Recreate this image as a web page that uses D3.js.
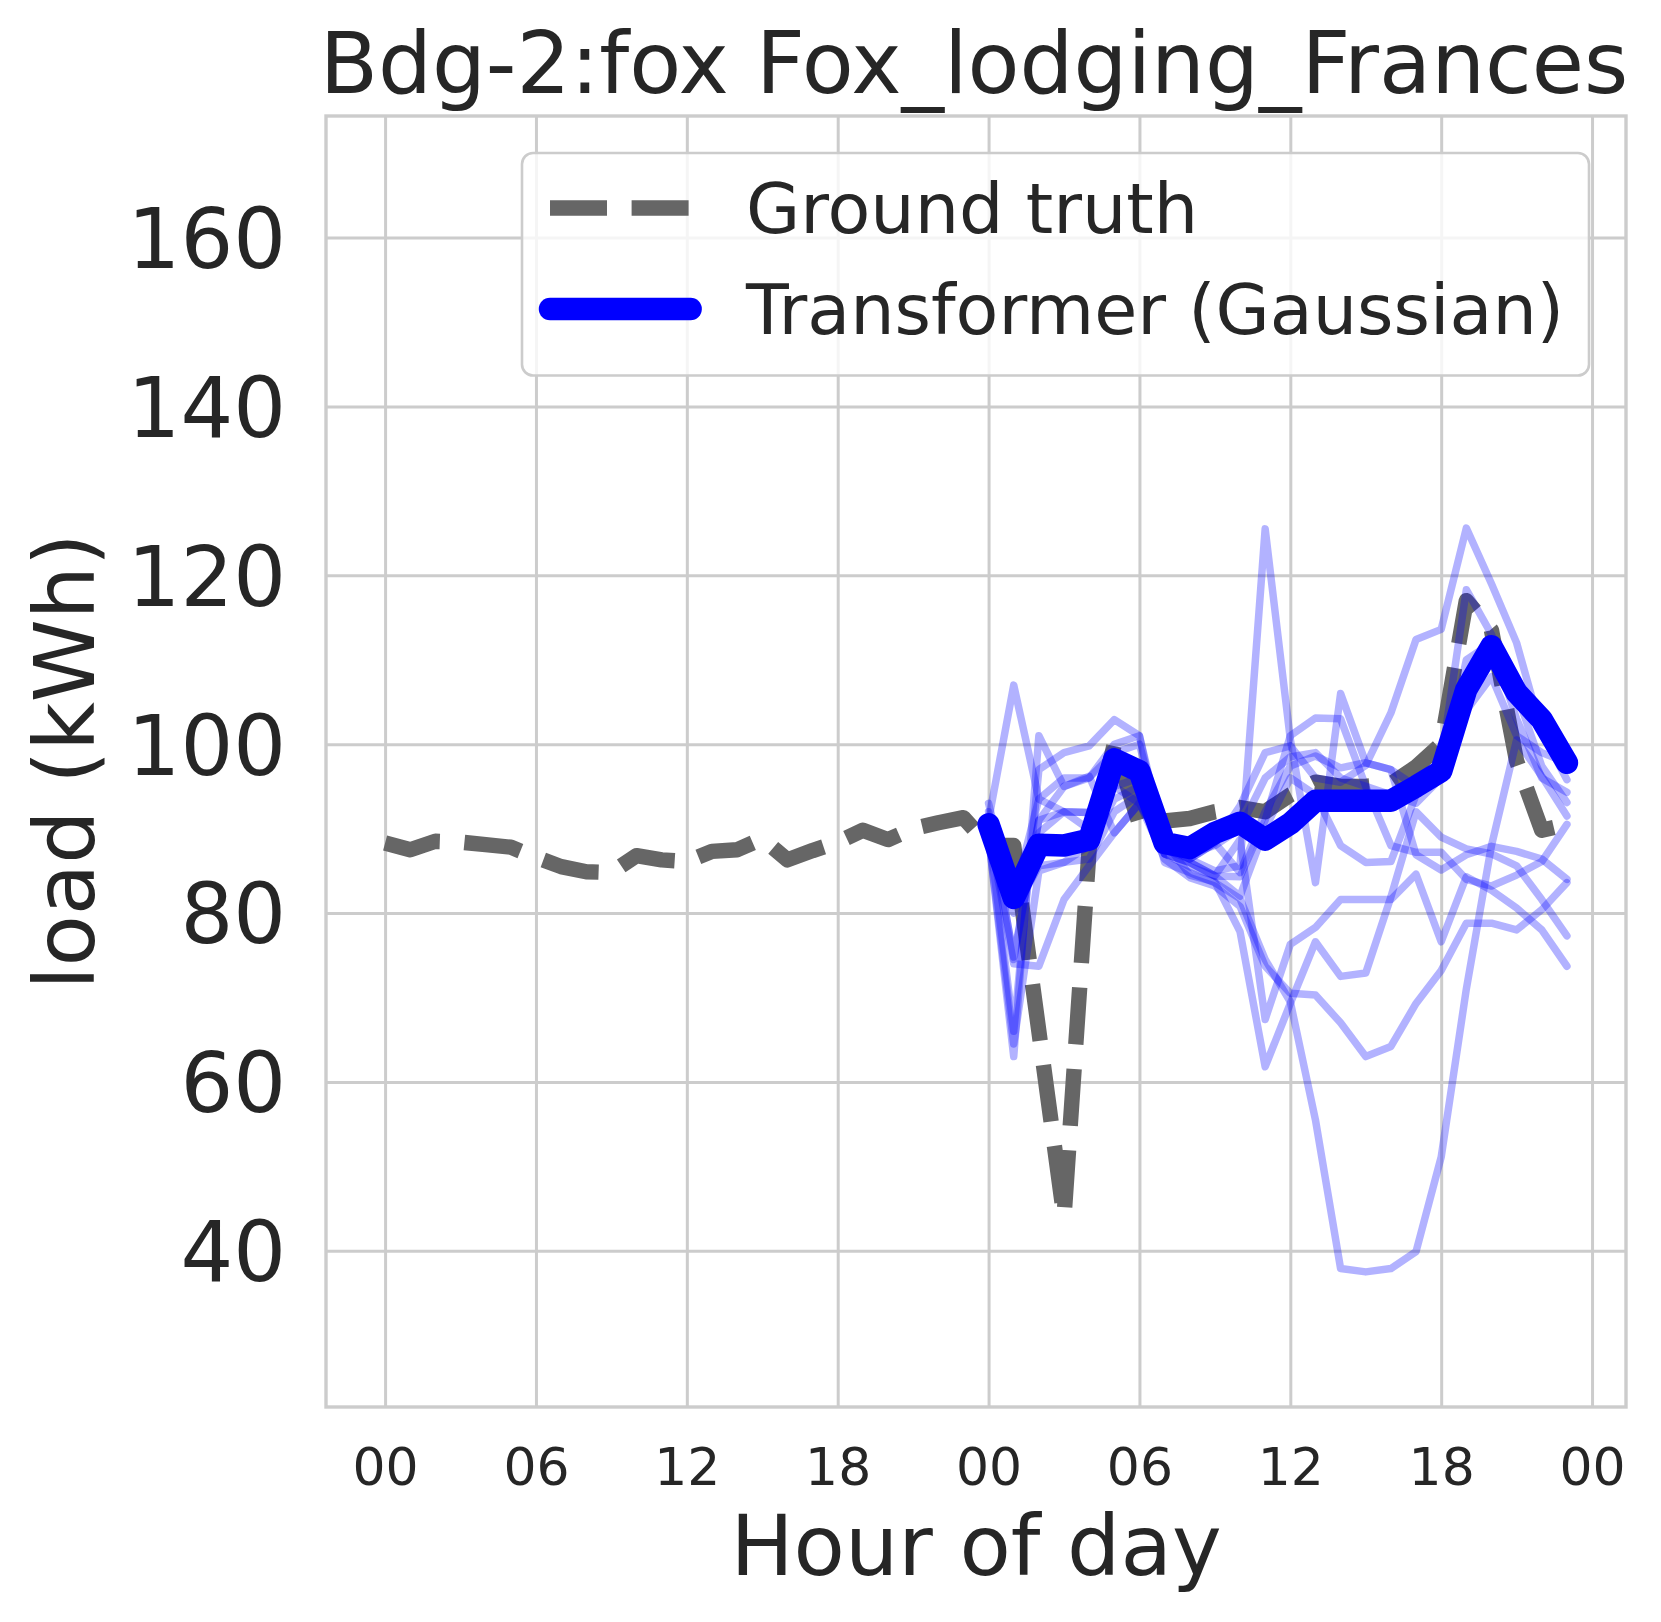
<!DOCTYPE html>
<html>
<head>
<meta charset="utf-8">
<script src="https://cdn.jsdelivr.net/npm/d3@7"></script>
<style>
  html, body { margin: 0; padding: 0; background: #ffffff; }
  svg { display: block; font-family: "DejaVu Sans", sans-serif; }
</style>
</head>
<body>
<svg id="chart" width="1661" height="1622"></svg>
<script>
// ---------------- data ----------------
const titleText = "Bdg-2:fox Fox_lodging_Frances";
const xLabel = "Hour of day";
const yLabel = "load (kWh)";

const historyHours = [0,1,2,3,4,5,6,7,8,9,10,11,12,13,14,15,16,17,18,19,20,21,22,23,
                      24,25,26,27,28,29,30,31,32,33,34,35,36,37,38,39,40,41,42,43,44,45,46,47];
const groundTruth = [88.3, 87.5, 88.5, 88.4, 88.1, 87.8, 86.6, 85.5, 84.9, 84.8, 86.8, 86.3,
                     86.1, 87.3, 87.5, 88.8, 86.3, 87.4, 88.4, 89.8, 88.7, 90.0, 90.7, 91.3,
                     88.0, 88.0, 66.0, 44.0, 87.6, 100.0, 90.5, 90.9, 91.2, 92.0, 92.5, 92.0,
                     94.0, 95.5, 95.0, 95.0, 95.3, 97.3, 100.0, 117.0, 113.5, 98.0, 89.8, 90.5];

const forecastHours = [24,25,26,27,28,29,30,31,32,33,34,35,36,37,38,39,40,41,42,43,44,45,46,47];
const transformerMean = [90.5, 81.8, 88.1, 88.0, 88.7, 98.2, 96.8, 88.3, 87.7, 89.5, 90.7, 88.7,
                         90.6, 93.3, 93.3, 93.3, 93.3, 95.0, 96.8, 106.5, 111.6, 106.1, 102.9, 97.8];

const sample1  = [91, 107, 93.5, 92, 91.9, 95, 93, 88, 86.4, 88.3, 92.7, 99, 99.8, 96, 95.5, 97.5, 103.7, 112.4, 113.6, 125.6, 119, 112, 101.4, 95.8];
const sample2  = [89, 63, 101, 95, 96.2, 89.5, 93, 87.5, 86.4, 85, 85.6, 125.5, 100.6, 83.6, 106, 97.8, 97, 86.9, 85.1, 86.9, 87.9, 87.3, 86.4, 84];
const sample3  = [90, 66, 97, 99, 99.8, 102.9, 101, 88.5, 84.5, 83.7, 77.8, 61.8, 69.3, 76.6, 72.5, 72.9, 81.9, 92, 89, 87.6, 87, 85.6, 81.6, 77.3];
const sample4  = [92, 74.5, 91, 95, 96, 100, 101, 87, 85.5, 84.4, 88.7, 67.4, 76.3, 78.3, 81.6, 81.6, 81.6, 84.6, 76.6, 84.3, 82.7, 80.6, 78, 73.7];
const sample5  = [90, 74, 73.7, 81.6, 85.6, 89.5, 93, 86.4, 84.2, 83.2, 80.8, 73.7, 70.5, 70.3, 67, 63, 64.2, 69.3, 73.2, 78.8, 78.8, 78, 80.4, 83.6];
const sample6  = [93, 81, 89.5, 92, 91.9, 97, 97.5, 86, 84.8, 83.6, 81.7, 74.5, 69.5, 55.5, 37.9, 37.5, 37.9, 39.9, 51.1, 71, 88, 100.5, 96.2, 91.5];
const sample7  = [90, 80, 85.6, 86, 86.4, 92, 94, 87, 86, 84.4, 84.3, 91, 101, 103.1, 103, 95, 88, 87.2, 87.2, 84, 83.2, 84.5, 86.1, 90.5];
const sample8  = [91, 74.8, 91, 92, 89.9, 95, 96, 88, 86.4, 88.3, 84.8, 92, 97.4, 98.6, 97.2, 97.8, 97, 95, 98, 118.3, 113, 106, 97.4, 93.1];
const sample9  = [89, 64.5, 85, 86, 88, 93.5, 95, 87, 86, 84.4, 82, 90, 96, 94, 88, 86, 86.1, 94, 96, 104, 108, 101, 99, 97.8];
const sample10 = [90, 82, 93.5, 96, 96, 99, 100, 88.5, 87, 88, 90, 96, 98.5, 99, 96, 95, 94, 93, 96, 110, 112, 103, 96, 94.3];
const samples = [sample1, sample2, sample3, sample4, sample5, sample6, sample7, sample8, sample9, sample10];

const xTickValues = [0, 6, 12, 18, 24, 30, 36, 42, 48];
const xTickLabels = ["00", "06", "12", "18", "00", "06", "12", "18", "00"];
const yTickValues = [40, 60, 80, 100, 120, 140, 160];
const xDomain = [-2.35, 49.35];
const yDomain = [21.5, 174.4];

const legendLabels = ["Ground truth", "Transformer (Gaussian)"];

// ---------------- layout ----------------
const plot = { left: 326, right: 1626, top: 116, bottom: 1407 };
const textColor = "#262626";
const gridColor = "#cccccc";

const svg = d3.select("#chart");
svg.append("rect").attr("width", 1661).attr("height", 1622).attr("fill", "#ffffff");

const x = d3.scaleLinear().domain(xDomain).range([plot.left, plot.right]);
const y = d3.scaleLinear().domain(yDomain).range([plot.bottom, plot.top]);

// grid + x ticks
const xAxis = d3.axisBottom(x)
  .tickValues(xTickValues)
  .tickFormat((d, i) => xTickLabels[i])
  .tickSize(-(plot.bottom - plot.top))
  .tickPadding(0);
const gx = svg.append("g").attr("transform", `translate(0,${plot.bottom})`).call(xAxis);
gx.select(".domain").remove();
gx.selectAll(".tick line").attr("stroke", gridColor).attr("stroke-width", 3);
gx.selectAll(".tick text")
  .attr("y", 78).attr("dy", null)
  .attr("fill", textColor)
  .style("font-size", "52px")
  .style("font-family", "DejaVu Sans");

const yAxis = d3.axisLeft(y)
  .tickValues(yTickValues)
  .tickSize(-(plot.right - plot.left))
  .tickPadding(0);
const gy = svg.append("g").attr("transform", `translate(${plot.left},0)`).call(yAxis);
gy.select(".domain").remove();
gy.selectAll(".tick line").attr("stroke", gridColor).attr("stroke-width", 3);
gy.selectAll(".tick text")
  .attr("x", -40).attr("dy", "0.36em")
  .attr("fill", textColor)
  .style("font-size", "83px")
  .style("font-family", "DejaVu Sans");

// spines
svg.append("rect")
  .attr("x", plot.left).attr("y", plot.top)
  .attr("width", plot.right - plot.left).attr("height", plot.bottom - plot.top)
  .attr("fill", "none").attr("stroke", gridColor).attr("stroke-width", 3.4);

// ---------------- lines ----------------
const lineGen = d3.line().x(d => x(d[0])).y(d => y(d[1]));

svg.append("path")
  .datum(historyHours.map((h, i) => [h, groundTruth[i]]))
  .attr("d", lineGen)
  .attr("fill", "none")
  .attr("stroke", "#666666")
  .attr("stroke-width", 15.4)
  .attr("stroke-dasharray", "57,24.6")
  .attr("stroke-linecap", "butt")
  .attr("stroke-linejoin", "round");

samples.forEach(s => {
  svg.append("path")
    .datum(forecastHours.map((h, i) => [h, s[i]]))
    .attr("d", lineGen)
    .attr("fill", "none")
    .attr("stroke", "#0000ff")
    .attr("stroke-opacity", 0.3)
    .attr("stroke-width", 7.5)
    .attr("stroke-linecap", "round")
    .attr("stroke-linejoin", "round");
});

svg.append("path")
  .datum(forecastHours.map((h, i) => [h, transformerMean[i]]))
  .attr("d", lineGen)
  .attr("fill", "none")
  .attr("stroke", "#0000ff")
  .attr("stroke-width", 22.5)
  .attr("stroke-linecap", "round")
  .attr("stroke-linejoin", "round");

// ---------------- legend ----------------
const lg = svg.append("g");
lg.append("rect")
  .attr("x", 522).attr("y", 153).attr("width", 1067).attr("height", 222.5)
  .attr("rx", 11).attr("ry", 11)
  .attr("fill", "#ffffff").attr("fill-opacity", 0.8)
  .attr("stroke", gridColor).attr("stroke-width", 2.6);
lg.append("line")
  .attr("x1", 550).attr("x2", 690.6).attr("y1", 208).attr("y2", 208)
  .attr("stroke", "#666666").attr("stroke-width", 15.4)
  .attr("stroke-dasharray", "57,24.6");
lg.append("line")
  .attr("x1", 550).attr("x2", 690.6).attr("y1", 309).attr("y2", 309)
  .attr("stroke", "#0000ff").attr("stroke-width", 22.5)
  .attr("stroke-linecap", "round");
lg.selectAll("text.leg").data(legendLabels).join("text")
  .attr("class", "leg")
  .attr("x", 746)
  .attr("y", (d, i) => [233, 334][i])
  .attr("fill", textColor)
  .style("font-size", "70px")
  .text(d => d);

// ---------------- titles ----------------
svg.append("text")
  .attr("x", (plot.left + plot.right) / 2 - 2).attr("y", 93)
  .attr("text-anchor", "middle").attr("fill", textColor)
  .style("font-size", "85px")
  .text(titleText);

svg.append("text")
  .attr("x", (plot.left + plot.right) / 2).attr("y", 1575)
  .attr("text-anchor", "middle").attr("fill", textColor)
  .style("font-size", "84px")
  .text(xLabel);

svg.append("text")
  .attr("transform", `translate(94,${(plot.top + plot.bottom) / 2}) rotate(-90)`)
  .attr("text-anchor", "middle").attr("fill", textColor)
  .style("font-size", "84px")
  .text(yLabel);
</script>
</body>
</html>
